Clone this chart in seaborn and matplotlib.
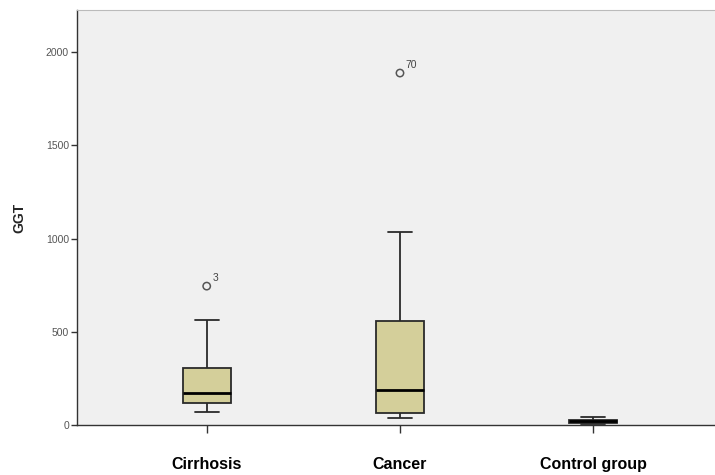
import pandas as pd
import seaborn as sns
import matplotlib.pyplot as plt

# values (box summary per group)
groups = ["Cirrhosis", "Cancer", "Control group"]
whisker_low = [70, 38, 8]
q1 = [118, 64, 14]
median = [172, 188, 22]
q3 = [306, 558, 30]
whisker_high = [563, 1035, 45]

# outliers with their case labels
out_group = ["Cirrhosis", "Cancer"]
out_value = [745, 1887]
out_label = ["3", "70"]

rows = []
for i, g in enumerate(groups):
    for v in [whisker_low[i], q1[i], median[i], q3[i], whisker_high[i]]:
        rows.append({"group": g, "GGT": v})
df = pd.DataFrame(rows)
outliers = pd.DataFrame({"group": out_group, "GGT": out_value, "label": out_label})

sns.set_style("white")
plt.rcParams["font.family"] = ["Liberation Sans", "DejaVu Sans"]

fig = plt.figure(figsize=(7.15, 4.75), dpi=100)
ax = fig.add_axes([0.108, 0.105, 0.892, 0.874])
ax.set_facecolor("#f0f0f0")

sns.boxplot(data=df, x="group", y="GGT", order=groups, ax=ax, whis=(0, 100),
            width=0.25, color="#d4cf9a", saturation=1, linewidth=1.3,
            linecolor="#2a2a2a", showfliers=False,
            medianprops={"color": "black", "linewidth": 2})

pos = {g: i for i, g in enumerate(groups)}
sns.scatterplot(x=outliers["group"].map(pos), y=outliers["GGT"], ax=ax,
                marker="o", s=28, facecolor="none", edgecolor="#555555",
                linewidth=1.1, zorder=5)
for g, v, lab in zip(out_group, out_value, out_label):
    ax.text(pos[g] + 0.03, v + 15, lab, fontsize=7.5, color="#444444",
            ha="left", va="bottom")

ax.set_xlim(-0.67, 2.63)
ax.set_ylim(0, 2225)
ax.set_yticks([0, 500, 1000, 1500, 2000])
ax.set_xticks(range(len(groups)))
ax.set_xticklabels(groups, fontsize=11.5, fontweight="bold")
ax.set_xlabel("")
ax.set_ylabel("GGT", fontsize=10, fontweight="bold", labelpad=14)
ax.tick_params(axis="y", direction="out", length=4, width=1, color="#333333",
               labelsize=7.5, labelcolor="#555555", pad=2, left=True)
ax.tick_params(axis="x", direction="out", length=6, width=1, color="#333333",
               labelcolor="black", pad=17, bottom=True)

for s in ["left", "bottom"]:
    ax.spines[s].set_color("#333333")
    ax.spines[s].set_linewidth(1)
ax.spines["top"].set_color("#bbbbbb")
ax.spines["right"].set_visible(False)

fig.savefig("out.png", dpi=100, facecolor="white")
